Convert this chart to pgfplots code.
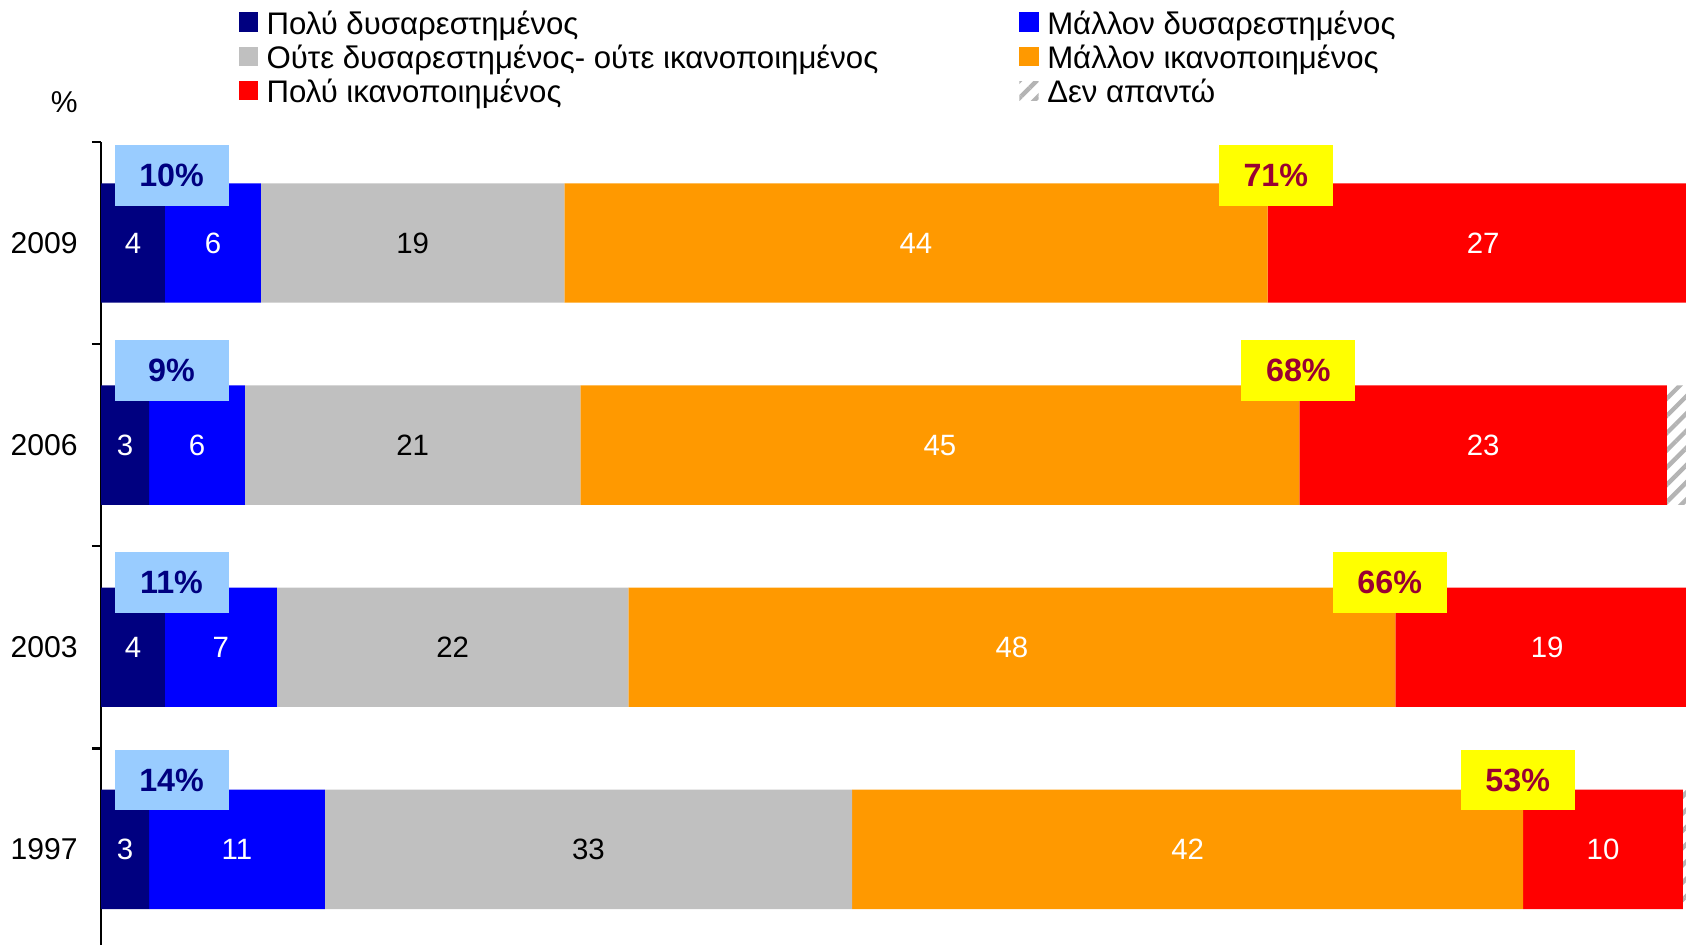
\documentclass[border=0pt]{standalone}
\usepackage{pgfplots}
\pgfplotsset{compat=1.18}
\usepackage{pgfplotstable}
\usepackage{fontspec}
\setmainfont{Liberation Sans}
\usetikzlibrary{patterns.meta}
\definecolor{cNavy}{HTML}{000080}
\definecolor{cBlue}{HTML}{0000FF}
\definecolor{cGray}{HTML}{C0C0C0}
\definecolor{cOrange}{HTML}{FF9900}
\definecolor{cRed}{HTML}{FF0000}
\definecolor{cLightBlue}{HTML}{99CCFF}
\definecolor{cYellow}{HTML}{FFFF00}
\definecolor{cDarkRed}{HTML}{990033}
\definecolor{cHatch}{HTML}{B4B4B4}

% y: 0=1997, 1=2003, 2=2006, 3=2009
\pgfplotstableread{
y a b c d e f
0 3 11 33 42 10 1
1 4 7 22 48 19 0
2 3 6 21 45 23 2
3 4 6 19 44 27 0
}\datatable

\pgfplotstableread{
x y label
4.41 0.343 14\%
4.41 1.322 11\%
4.41 2.368 9\%
4.41 3.336 10\%
}\blueboxes

\pgfplotstableread{
x y label
88.66 0.343 53\%
80.65 1.322 66\%
74.93 2.368 68\%
73.52 3.336 71\%
}\yellowboxes

\begin{document}
\begin{tikzpicture}
\pgfplotsset{
  common/.style={
    at={(28.2pt,0pt)}, anchor=south west,
    width=445.8pt, height=224.1pt, scale only axis,
    xmin=0, xmax=100, ymin=-0.474, ymax=3.5,
  },
  legimg/.style={legend image code/.code={\path[##1,draw=none] (0pt,-0.9pt) rectangle (5.4pt,4.5pt);}},
}
\begin{axis}[common,
  xbar stacked, bar width=33.3pt,
  axis x line=none, axis y line*=left,
  axis line style={-, black, line width=0.75pt},
  ytick={0,1,2,3}, yticklabels={1997,2003,2006,2009},
  y tick label style={font=\fontsize{8.4}{10}\selectfont, xshift=-3pt},
  major tick length=0pt,
  extra y ticks={0.5,1.5,2.5,3.5}, extra y tick labels={},
  extra y tick style={major tick length=2.6pt, tick align=outside, tick style={black, line width=0.75pt}},
  ylabel={\%}, ylabel style={rotate=-90, at={(rel axis cs:-0.023,1.0495)}, anchor=center, font=\fontsize{8.4}{10}\selectfont},
  /pgf/number format/assume math mode=true,
  nodes near coords,
  every node near coord/.append style={font=\fontsize{8.2}{9.6}\selectfont},
  legend columns=2,
  legend cell align=left,
  legend style={draw=none, fill=none, at={(rel axis cs:0.0861,1.1627)}, anchor=north west,
    inner sep=0pt, outer sep=0pt, row sep=0pt,
    nodes={inner sep=0pt, text height=6.4pt, text depth=3.2pt, font=\fontsize{8.7}{10}\selectfont},
    /tikz/every odd column/.append style={column sep=2.4pt},
    /tikz/every even column/.append style={column sep=0pt}},
]
\addplot[legimg, fill=cNavy, draw=none, every node near coord/.append style={text=white}] table[x=a,y=y]{\datatable};
\addlegendentry{\makebox[210pt][l]{Πολύ δυσαρεστημένος}}
\addplot[legimg, fill=cBlue, draw=none, every node near coord/.append style={text=white}] table[x=b,y=y]{\datatable};
\addlegendentry{Μάλλον δυσαρεστημένος}
\addplot[legimg, fill=cGray, draw=none, every node near coord/.append style={text=black}] table[x=c,y=y]{\datatable};
\addlegendentry{\makebox[210pt][l]{Ούτε δυσαρεστημένος- ούτε ικανοποιημένος}}
\addplot[legimg, fill=cOrange, draw=none, every node near coord/.append style={text=white}] table[x=d,y=y]{\datatable};
\addlegendentry{Μάλλον ικανοποιημένος}
\addplot[legimg, fill=cRed, draw=none, every node near coord/.append style={text=white}] table[x=e,y=y]{\datatable};
\addlegendentry{\makebox[210pt][l]{Πολύ ικανοποιημένος}}
\addplot[legimg, draw=none, fill=white, postaction={pattern={Lines[angle=45, distance=3.4pt, line width=1.2pt]}, pattern color=cHatch}, nodes near coords={}] table[x=f,y=y]{\datatable};
\addlegendentry{Δεν απαντώ}
\end{axis}
\begin{axis}[common, hide axis, clip=false]
\addplot[draw=none, mark=none, nodes near coords, point meta=explicit symbolic,
  nodes near coords align=center,
  every node near coord/.style={anchor=center, fill=cLightBlue, text=cNavy,
    font=\bfseries\fontsize{9}{10}\selectfont, minimum width=31.8pt, minimum height=17pt, inner sep=0pt}]
  table[x=x,y=y,meta=label]{\blueboxes};
\addplot[draw=none, mark=none, nodes near coords, point meta=explicit symbolic,
  nodes near coords align=center,
  every node near coord/.style={anchor=center, fill=cYellow, text=cDarkRed,
    font=\bfseries\fontsize{9}{10}\selectfont, minimum width=31.8pt, minimum height=17pt, inner sep=0pt}]
  table[x=x,y=y,meta=label]{\yellowboxes};
\end{axis}
\pgfresetboundingbox
\path (0pt,0pt) rectangle (470.4pt,263.7pt);
\end{tikzpicture}
\end{document}
